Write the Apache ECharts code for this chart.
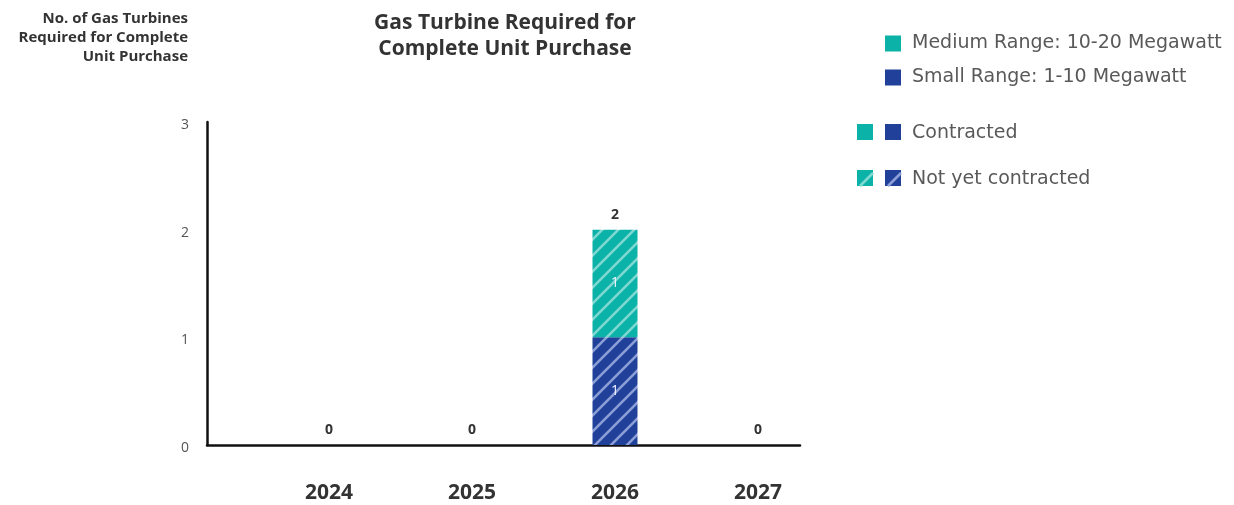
<!DOCTYPE html>
<html><head><meta charset="utf-8">
<script src="https://cdn.jsdelivr.net/npm/echarts@6/dist/echarts.min.js"></script>
<style>html,body{margin:0;padding:0;background:#fff}#c{width:1234px;height:505px}</style>
</head><body><div id="c"></div>
<script>
const years = ['2024', '2025', '2026', '2027'];
const smallContracted = [0, 0, 0, 0];
const smallNotContracted = [0, 0, 1, 0];
const mediumContracted = [0, 0, 0, 0];
const mediumNotContracted = [0, 0, 1, 0];

const TEAL = '#0bb2a7', BLUE = '#21409a';
const FONT = '"Open Sans", Lato, sans-serif';
const LFONT = '"DejaVu Sans", "Open Sans", sans-serif';

function hatch(base, stripe) {
  const s = 16, c = document.createElement('canvas');
  c.width = s; c.height = s;
  const g = c.getContext('2d');
  g.fillStyle = base; g.fillRect(0, 0, s, s);
  g.strokeStyle = stripe; g.lineWidth = 2.6;
  g.beginPath();
  g.moveTo(-2, s + 2); g.lineTo(s + 2, -2);
  g.moveTo(-2, 2); g.lineTo(2, -2);
  g.moveTo(s - 2, s + 2); g.lineTo(s + 2, s - 2);
  g.stroke();
  return { image: c, repeat: 'repeat' };
}
const tealHatch = hatch(TEAL, '#7fd8d1');
const blueHatch = hatch(BLUE, '#8c9fd6');

const totals = years.map((_, i) => smallContracted[i] + smallNotContracted[i] + mediumContracted[i] + mediumNotContracted[i]);

const innerLabel = {
  show: true, position: 'inside', color: '#eef4ff', fontFamily: FONT, fontSize: 14,
  formatter: p => p.value ? String(p.value) : ''
};
const barW = 45;

const chart = echarts.init(document.getElementById('c'), null, { renderer: 'canvas' });
chart.setOption({
  animation: false,
  textStyle: { fontFamily: FONT },
  title: {
    text: 'Gas Turbine Required for\nComplete Unit Purchase',
    left: 500, top: 5, textAlign: 'center',
    textStyle: { fontFamily: FONT, fontSize: 21, fontWeight: 'bold', color: '#333', lineHeight: 26 }
  },
  legend: {
    orient: 'vertical', left: 885, top: 34, itemWidth: 16, itemHeight: 16, itemGap: 15, padding: 0,
    selectedMode: false,
    textStyle: { fontFamily: LFONT, fontSize: 19, color: '#595959', padding: [0, 0, 0, 6] },
    data: [
      { name: 'Medium Range: 10-20 Megawatt', icon: 'rect', itemStyle: { color: TEAL } },
      { name: 'Small Range: 1-10 Megawatt', icon: 'rect', itemStyle: { color: BLUE } }
    ]
  },
  graphic: [
    { type: 'text', x: 188, y: 9, style: { text: 'No. of Gas Turbines\nRequired for Complete\nUnit Purchase', align: 'right', verticalAlign: 'top', fill: '#333', font: 'bold 15px ' + FONT, lineHeight: 19 } },
    { type: 'rect', shape: { x: 857, y: 124, width: 16, height: 16 }, style: { fill: TEAL } },
    { type: 'rect', shape: { x: 885, y: 124, width: 16, height: 16 }, style: { fill: BLUE } },
    { type: 'text', x: 912, y: 133, style: { text: 'Contracted', verticalAlign: 'middle', fill: '#595959', font: '19px ' + LFONT } },
    { type: 'rect', shape: { x: 857, y: 170, width: 16, height: 16 }, style: { fill: TEAL } },
    { type: 'line', shape: { x1: 860, y1: 186, x2: 873, y2: 173 }, style: { stroke: '#7fd8d1', lineWidth: 2.6 } },
    { type: 'rect', shape: { x: 885, y: 170, width: 16, height: 16 }, style: { fill: BLUE } },
    { type: 'line', shape: { x1: 888, y1: 186, x2: 901, y2: 173 }, style: { stroke: '#8c9fd6', lineWidth: 2.6 } },
    { type: 'text', x: 912, y: 179, style: { text: 'Not yet contracted', verticalAlign: 'middle', fill: '#595959', font: '19px ' + LFONT } }
  ],
  grid: [
    { left: 257.5, top: 122, width: 572, bottom: 60, containLabel: false },
    { left: 207, top: 122, width: 593, bottom: 60, containLabel: false }
  ],
  xAxis: [
    { type: 'category', gridIndex: 0, data: years,
      axisLine: { show: false }, axisTick: { show: false },
      axisLabel: { margin: 38, color: '#333', fontSize: 21, fontWeight: 'bold', fontFamily: FONT } },
    { type: 'value', gridIndex: 1, min: 0, max: 1, show: true, splitLine: { show: false },
      axisLine: { show: true, lineStyle: { color: '#111', width: 2.5 } },
      axisTick: { show: false }, axisLabel: { show: false } }
  ],
  yAxis: [
    { type: 'value', gridIndex: 0, min: 0, max: 3, interval: 1, show: false, splitLine: { show: false } },
    { type: 'value', gridIndex: 1, min: 0, max: 3, interval: 1,
      splitLine: { show: false },
      axisLine: { show: true, lineStyle: { color: '#111', width: 2.5 } },
      axisTick: { show: false },
      axisLabel: { margin: 18, color: '#555', fontSize: 14, fontFamily: FONT,
        formatter: v => '{a|' + v + '}',
        rich: { a: { fontSize: 14, color: '#555', fontFamily: FONT, padding: [6, 0, 0, 0] } } } }
  ],
  series: [
    { name: 'Small Contracted', type: 'bar', stack: 's', barWidth: barW, data: smallContracted, itemStyle: { color: BLUE }, label: innerLabel },
    { name: 'Small Range: 1-10 Megawatt', type: 'bar', stack: 's', barWidth: barW, data: smallNotContracted, itemStyle: { color: blueHatch }, label: innerLabel },
    { name: 'Medium Contracted', type: 'bar', stack: 's', barWidth: barW, data: mediumContracted, itemStyle: { color: TEAL }, label: innerLabel },
    { name: 'Medium Range: 10-20 Megawatt', type: 'bar', stack: 's', barWidth: barW, data: mediumNotContracted, itemStyle: { color: tealHatch }, label: innerLabel },
    { name: 'Total', type: 'bar', stack: 's', barWidth: barW, data: years.map(() => 0),
      itemStyle: { color: 'transparent' },
      label: { show: true, position: 'top', distance: 8, color: '#333', fontWeight: 'bold', fontSize: 14, fontFamily: FONT,
        formatter: p => String(totals[p.dataIndex]) } }
  ]
});
</script></body></html>
